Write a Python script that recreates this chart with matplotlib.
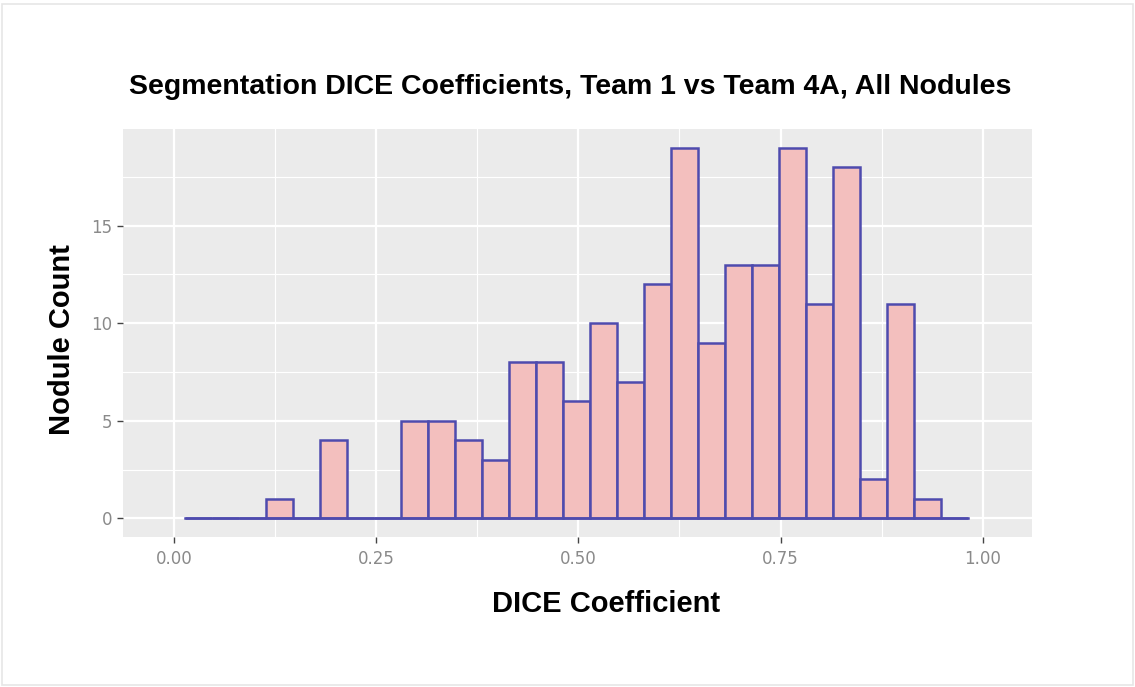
import numpy as np
import matplotlib.pyplot as plt
from matplotlib.patches import Rectangle

# histogram of DICE coefficients, 29 bins
bin_start = 0.0136
bin_width = 0.0334
counts = [0, 0, 0, 1, 0, 4, 0, 0, 5, 5, 4, 3, 8, 8, 6, 10, 7, 12, 19, 9,
          13, 13, 19, 11, 18, 2, 11, 1, 0]
x_ticks = [0.0, 0.25, 0.5, 0.75, 1.0]
x_tick_labels = ['0.00', '0.25', '0.50', '0.75', '1.00']
y_ticks = [0, 5, 10, 15]

edges = bin_start + bin_width * np.arange(len(counts) + 1)

fig = plt.figure(figsize=(11.35, 6.87), dpi=100)
ax = fig.add_axes([0.1084, 0.2183, 0.8009, 0.5939])
ax.set_facecolor('#EBEBEB')

# ggplot style grid
for v in x_ticks:
    ax.axvline(v, color='white', lw=1.6, zorder=0)
for v in np.array(x_ticks[:-1]) + 0.125:
    ax.axvline(v, color='white', lw=0.8, zorder=0)
for v in y_ticks:
    ax.axhline(v, color='white', lw=1.6, zorder=0)
for v in np.array(y_ticks) + 2.5:
    ax.axhline(v, color='white', lw=0.8, zorder=0)

ax.bar(edges[:-1], counts, width=bin_width, align='edge',
       color='#F3BFBE', edgecolor='#4E4BAE', linewidth=1.8, zorder=2)
ax.plot([edges[0], edges[-1]], [0, 0], color='#4E4BAE', lw=1.8, zorder=3)

ax.set_xlim(-0.063, 1.061)
ax.set_ylim(-0.95, 19.95)
ax.set_xticks(x_ticks)
ax.set_xticklabels(x_tick_labels)
ax.set_yticks(y_ticks)
ax.tick_params(colors='#444444', labelcolor='#8A8A8A', labelsize=12,
               length=4, width=1)
ax.tick_params(axis='x', pad=5)
for s in ax.spines.values():
    s.set_visible(False)

lab = dict(fontweight='bold', family='Liberation Sans', color='black')
fig.text(570 / 1135, 1 - 87 / 687,
         'Segmentation DICE Coefficients, Team 1 vs Team 4A, All Nodules',
         ha='center', va='center', fontsize=20.5, **lab)
fig.text(606 / 1135, 1 - 604 / 687, 'DICE Coefficient',
         ha='center', va='center', fontsize=21, **lab)
fig.text(62 / 1135, 1 - 340 / 687, 'Nodule Count', rotation=90,
         ha='center', va='center', fontsize=21, **lab)

# light frame around the image
fig.patches.append(Rectangle((0.002, 0.003), 0.996, 0.991, transform=fig.transFigure,
                             fill=False, edgecolor='#E6E6E6', lw=1.2))

fig.savefig('out.png', dpi=100, facecolor='white')
